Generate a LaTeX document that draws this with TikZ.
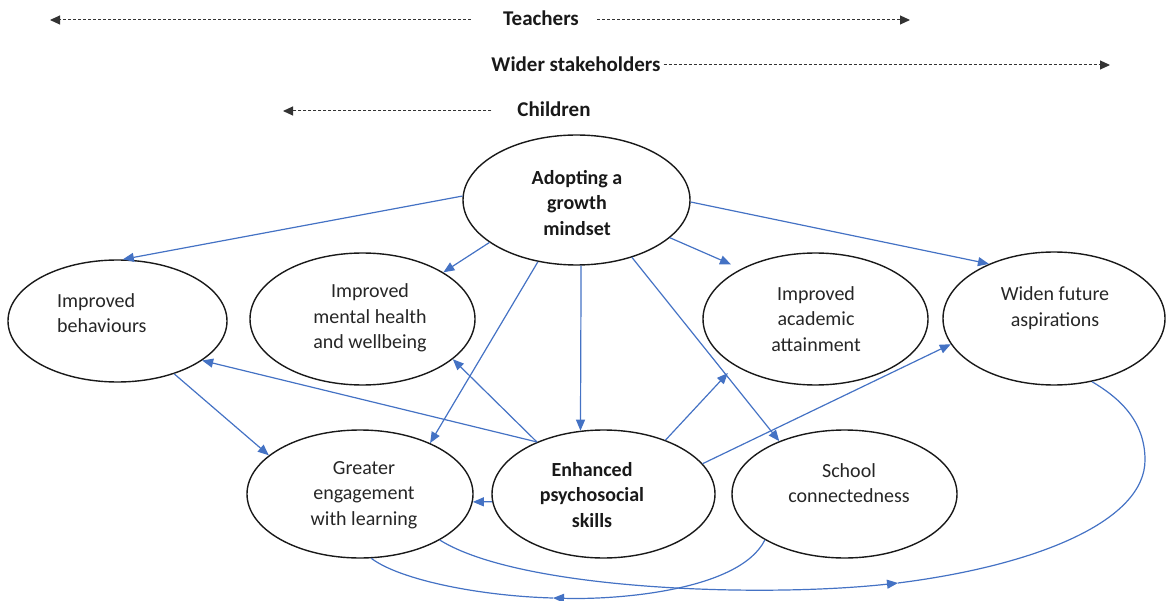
\documentclass[tikz,border=0pt]{standalone}
\usepackage{fontspec}
\setmainfont{Carlito}
\usetikzlibrary{arrows.meta,shapes.geometric}
\definecolor{arrowblue}{RGB}{68,114,196}
\begin{document}
\begin{tikzpicture}[x=1pt,y=-1pt,
  bubble/.style={draw=black!90, line width=1.4pt, ellipse, inner sep=0pt},
  lbl/.style={font=\fontsize{20}{25.5}\selectfont, align=center, text=black!85, inner sep=0pt},
  blbl/.style={font=\bfseries\fontsize{20}{25.5}\selectfont, align=center, text=black!90, inner sep=0pt},
  toplbl/.style={font=\bfseries\fontsize{21}{25}\selectfont, text=black!90, inner sep=0pt},
  flow/.style={draw=arrowblue, line width=1.2pt, -{Triangle[length=11pt,width=9pt]}},
  flowline/.style={draw=arrowblue, line width=1.2pt},
  dasharrow/.style={draw=black!80, line width=1pt, dash pattern=on 3pt off 2pt, -{Triangle[length=10pt,width=9pt]}}
]
\useasboundingbox (0,0) rectangle (1166,601);

% top labels
\node[toplbl] (teach) at (541,18) {Teachers};
\node[toplbl] (wider) at (576,64) {Wider stakeholders};
\node[toplbl] (child) at (554,109) {Children};
\coordinate (tl) at (50,20);
\coordinate (tr) at (910,20);
\coordinate (wr) at (1110,65);
\coordinate (cl) at (283,111);
\draw[dasharrow] ([xshift=-32pt,yshift=-2pt]teach.west) -- (tl);
\draw[dasharrow] ([xshift=18pt,yshift=-2pt]teach.east) -- (tr);
\draw[dasharrow] ([xshift=3pt,yshift=-1pt]wider.east) -- (wr);
\draw[dasharrow] ([xshift=-26pt,yshift=-2pt]child.west) -- (cl);

% ellipses
\node[bubble, minimum width=227pt, minimum height=130pt] (ad) at (576.5,200) {};
\node[bubble, minimum width=219pt, minimum height=122pt] (bh) at (117.5,321) {};
\node[bubble, minimum width=225pt, minimum height=132pt] (mh) at (362.5,319) {};
\node[bubble, minimum width=225pt, minimum height=132pt] (ac) at (815.5,319) {};
\node[bubble, minimum width=222pt, minimum height=133pt] (wf) at (1054,318.5) {};
\node[bubble, minimum width=226pt, minimum height=128pt] (ge) at (360,494) {};
\node[bubble, minimum width=223pt, minimum height=128pt] (en) at (603.5,494) {};
\node[bubble, minimum width=225pt, minimum height=128pt] (sc) at (844.5,494) {};

% texts
\node[blbl] (tad) at (577,203) {Adopting a\\growth\\mindset};
\node[lbl, align=left, anchor=west] (tbh) at (57,313) {Improved\\behaviours};
\node[lbl] (tmh) at (370,318) {Improved\\mental health\\and wellbeing};
\node[lbl] (tac) at (816,319) {Improved\\academic\\attainment};
\node[lbl] (twf) at (1055,308) {Widen future\\aspirations};
\node[lbl] (tge) at (364,495) {Greater\\engagement\\with learning};
\node[blbl] (ten) at (592,495) {Enhanced\\psychosocial\\skills};
\node[lbl] (tsc) at (849,483) {School\\connectedness};

% arrows from growth mindset
\draw[flow] (ad.178) -- (bh.85);
\draw[flow] (ad.-154.6) -- (mh.30);
\draw[flow] (ad.-122.5) -- (ge.36.4);
\draw[flow] (ad.-86.9) -- (en.110.6);
\draw[flow] (ad.-46.3) -- (sc.141.1);
\draw[flow, shorten >=11pt] (ad.-22.1) -- (ac.146);
\draw[flow] (ad.-1) -- (wf.140.5);

% other arrows
\draw[flow] (bh.-43.2) -- (ge.157);
\draw[flow] (en.142) -- (bh.-25);
\draw[flow] (en.142) -- (mh.-24);
\draw[flow] (en.184) -- (ge.-4.1);
\draw[flow, shorten >=10pt] (en.41.5) -- (ac.-150.4);
\draw[flow] (en.17.2) -- (wf.-166);

% curved connectors with mid arrows
\coordinate (m2) at (553,598);
\draw[flow] (sc.-150) .. controls (740,590) and (620,600) .. (m2);
\draw[flowline] (m2) .. controls (480,596) and (400,580) .. (ge.-80);

\coordinate (m1) at (898,583);
\coordinate (rc) at (1145,460);
\draw[flow] (ge.-30) .. controls (520,590) and (760,598) .. (m1);
\draw[flowline] (m1) .. controls (1040,565) and (1145,520) .. (rc) .. controls (1145,420) and (1118,397) .. (wf.-59);
\end{tikzpicture}
\end{document}
